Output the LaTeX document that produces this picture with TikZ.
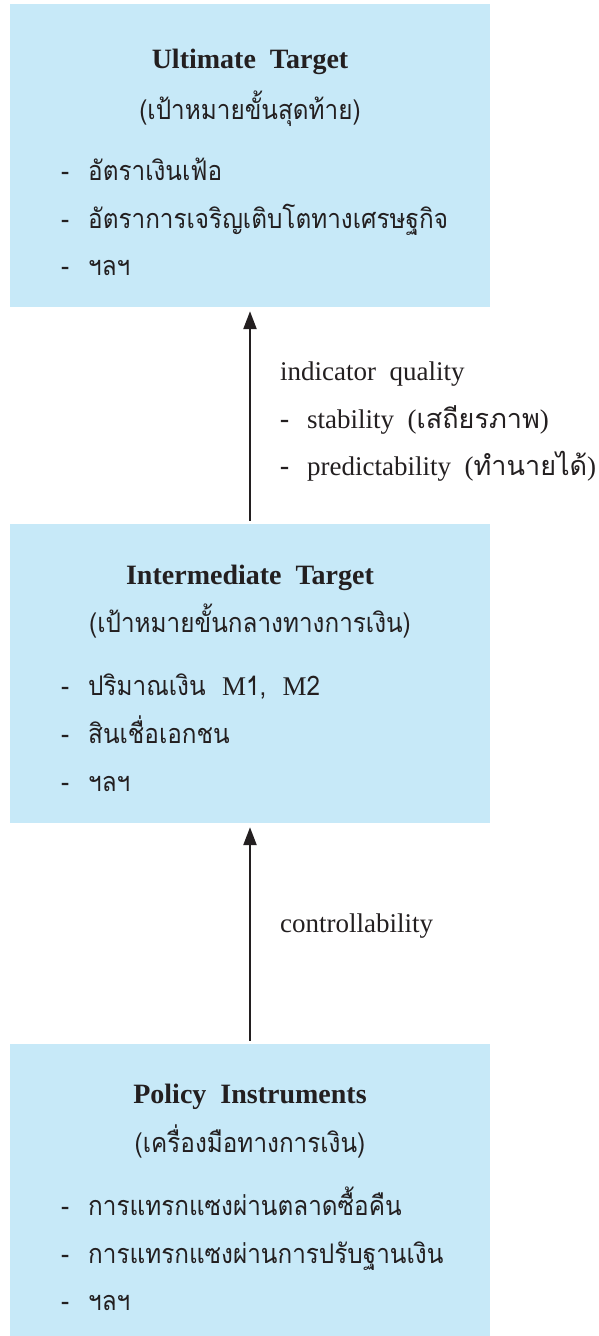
\documentclass[tikz,border=0pt]{standalone}
\usepackage{fontspec}
\setmainfont{Liberation Serif}
\newfontfamily\thai[Script=Thai,FakeStretch=0.9]{Loma}
\newfontfamily\thaiw[Script=Thai]{Loma}
\usetikzlibrary{arrows.meta}
\definecolor{boxblue}{RGB}{199,233,248}
\definecolor{ink}{RGB}{35,31,32}
\tikzset{
  box/.style={rectangle, fill=boxblue, draw=none, inner sep=0pt},
  ttl/.style={anchor=base, inner sep=0pt, text=ink, font=\fontsize{28}{32}\selectfont\bfseries},
  sub/.style={anchor=base, inner sep=0pt, text=ink, font=\fontsize{27}{30}\selectfont\thai},
  itm/.style={anchor=base west, inner sep=0pt, text=ink, font=\fontsize{27}{30}\selectfont\thai},
  lbl/.style={anchor=base west, inner sep=0pt, text=ink, font=\fontsize{27}{30}\selectfont},
  arr/.style={draw=ink, line width=2.5pt, -{Triangle[width=13pt,length=18pt]}, shorten <=3pt, shorten >=4pt}
}
\newcommand{\dsh}{\makebox[27pt][l]{-}}
\begin{document}
\begin{tikzpicture}[x=1pt,y=-1pt]
\useasboundingbox (0,0) rectangle (598,1336);
% boxes
\node[box, minimum width=480pt, minimum height=303pt] (ult) at (250,155.5) {};
\node[box, minimum width=480pt, minimum height=299pt] (mid) at (250,673.5) {};
\node[box, minimum width=480pt, minimum height=292pt] (pol) at (250,1190) {};
% top box text
\node[ttl] (ultT) at (250,68) {Ultimate\ \ Target};
\node[sub] (ultS) at (250,119) {(เป้าหมายขั้นสุดท้าย)};
\node[itm] (ult1) at (61,180) {\dsh อัตราเงินเฟ้อ};
\node[itm] (ult2) at (61,228) {\dsh อัตราการเจริญเติบโตทางเศรษฐกิจ};
\node[itm] (ult3) at (61,275) {\dsh ฯลฯ};
% middle box text
\node[ttl] (midT) at (250,584) {Intermediate\ \ Target};
\node[sub] (midS) at (250,632) {(เป้าหมายขั้นกลางทางการเงิน)};
\node[itm] (mid1) at (61,695) {\dsh ปริมาณเงิน\ \ {\rmfamily M}1,\ \ {\rmfamily M}2};
\node[itm] (mid2) at (61,743) {\dsh สินเชื่อเอกชน};
\node[itm] (mid3) at (61,791) {\dsh ฯลฯ};
% bottom box text
\node[ttl] (polT) at (250,1103) {Policy\ \ Instruments};
\node[sub] (polS) at (250,1152) {(เครื่องมือทางการเงิน)};
\node[itm] (pol1) at (61,1215) {\dsh การแทรกแซงผ่านตลาดซื้อคืน};
\node[itm] (pol2) at (61,1263) {\dsh การแทรกแซงผ่านการปรับฐานเงิน};
\node[itm] (pol3) at (61,1310) {\dsh ฯลฯ};
% arrows
\draw[arr] (mid.north) -- (ult.south);
\draw[arr] (pol.north) -- (mid.south);
% labels
\node[lbl] (iq) at (280,380) {indicator\ \ quality};
\node[lbl] (st) at (280,428) {{\thaiw\dsh}stability\ \ ({\thaiw เสถียรภาพ})};
\node[lbl] (pr) at (280,475) {{\thaiw\dsh}predictability\ \ ({\thaiw ทำนายได้})};
\node[lbl] (ct) at (280,932) {controllability};
\end{tikzpicture}
\end{document}
